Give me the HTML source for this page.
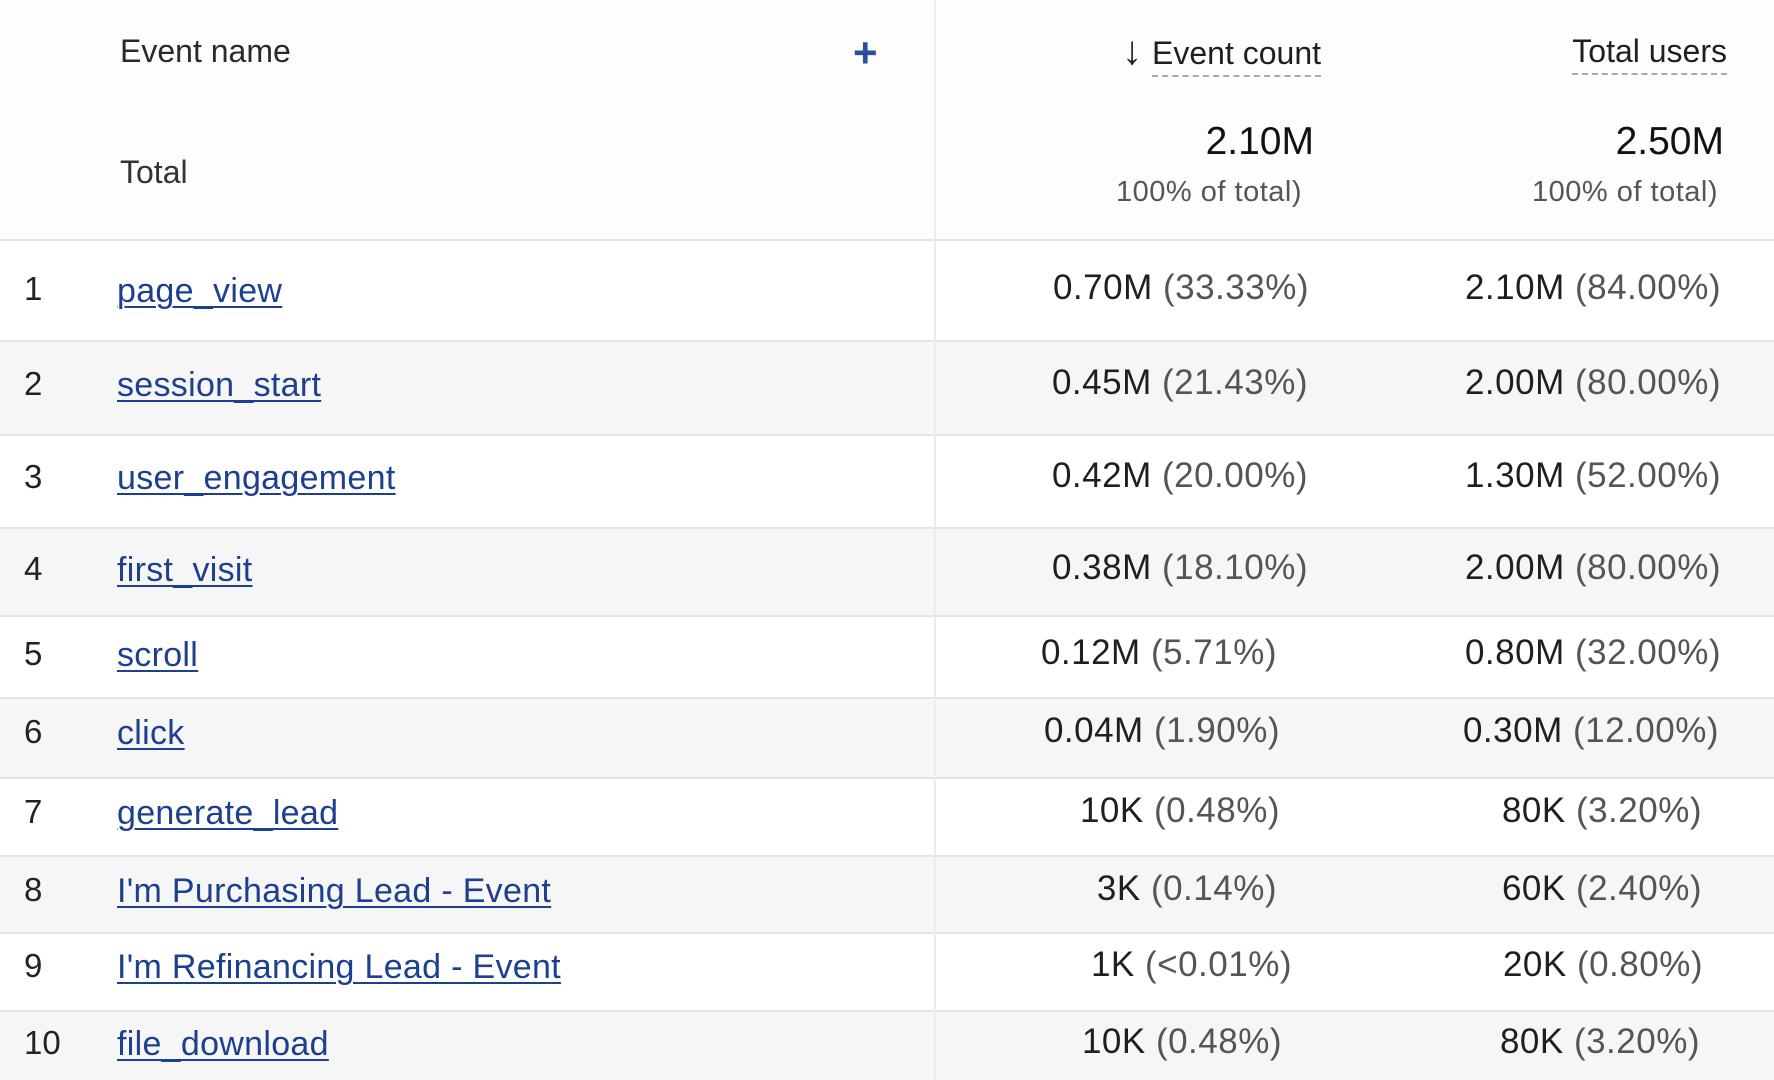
<!DOCTYPE html>
<html><head><meta charset="utf-8"><style>
html,body{margin:0;padding:0;width:1774px;height:1080px;overflow:hidden;background:#fff;font-family:"Liberation Sans",sans-serif;}
.a{position:absolute;white-space:nowrap;line-height:40px;height:40px;}
.row{position:absolute;left:0;width:1774px;border-bottom:2px solid #e4e4e4;box-sizing:border-box;}
.g{background:#f6f6f6;}
.num{left:24px;font-size:33px;color:#222;}
.nm{left:117px;font-size:34px;color:#1d3f8f;text-decoration:underline;text-decoration-thickness:2px;text-underline-offset:4px;letter-spacing:0.3px;}
.v{font-size:35px;color:#1f1f1f;text-align:right;letter-spacing:0.5px;}
.v span{color:#555;}
</style></head><body>
<div class="row" style="top:0;height:241px;background:#fdfdfd"></div>
<div class="row" style="top:241px;height:101px;"></div>
<div class="row g" style="top:342px;height:94px;"></div>
<div class="row" style="top:436px;height:93px;"></div>
<div class="row g" style="top:529px;height:88px;"></div>
<div class="row" style="top:617px;height:82px;"></div>
<div class="row g" style="top:699px;height:80px;"></div>
<div class="row" style="top:779px;height:78px;"></div>
<div class="row g" style="top:857px;height:77px;"></div>
<div class="row" style="top:934px;height:78px;"></div>
<div class="row g" style="top:1012px;height:68px;border:none"></div>
<div style="position:absolute;left:934px;top:0;width:2px;height:1080px;background:#ececec"></div>

<div class="a" style="left:120px;top:31px;font-size:32px;color:#2a2a2a">Event name</div>
<div class="a" style="left:853px;top:33px;font-size:42px;color:#2a4fa0;font-weight:bold">+</div>
<div class="a" style="right:453px;top:31px;font-size:32px;color:#1f1f1f"><span style="font-size:40px;margin-right:10px">↓</span><span style="border-bottom:2px dashed #aaa;padding-bottom:4px">Event count</span></div>
<div class="a" style="right:47px;top:31px;font-size:32px;color:#1f1f1f"><span style="border-bottom:2px dashed #aaa;padding-bottom:4px">Total users</span></div>
<div class="a" style="left:120px;top:152px;font-size:32px;color:#333">Total</div>
<div class="a" style="right:460px;top:122px;font-size:39px;color:#111">2.10M</div>
<div class="a" style="right:50px;top:122px;font-size:39px;color:#111">2.50M</div>
<div class="a" style="right:472px;top:172px;font-size:29px;color:#555;letter-spacing:0.5px">100% of total)</div>
<div class="a" style="right:56px;top:172px;font-size:29px;color:#555;letter-spacing:0.5px">100% of total)</div>

<div class="a num" style="top:269px">1</div><div class="a nm" style="top:271px">page_view</div>
<div class="a v" style="right:465px;top:268px">0.70M <span>(33.33%)</span></div><div class="a v" style="right:53px;top:268px">2.10M <span>(84.00%)</span></div>

<div class="a num" style="top:364px">2</div><div class="a nm" style="top:365px">session_start</div>
<div class="a v" style="right:466px;top:363px">0.45M <span>(21.43%)</span></div><div class="a v" style="right:53px;top:363px">2.00M <span>(80.00%)</span></div>

<div class="a num" style="top:457px">3</div><div class="a nm" style="top:458px">user_engagement</div>
<div class="a v" style="right:466px;top:456px">0.42M <span>(20.00%)</span></div><div class="a v" style="right:53px;top:456px">1.30M <span>(52.00%)</span></div>

<div class="a num" style="top:549px">4</div><div class="a nm" style="top:550px">first_visit</div>
<div class="a v" style="right:466px;top:548px">0.38M <span>(18.10%)</span></div><div class="a v" style="right:53px;top:548px">2.00M <span>(80.00%)</span></div>

<div class="a num" style="top:634px">5</div><div class="a nm" style="top:635px">scroll</div>
<div class="a v" style="right:497px;top:633px">0.12M <span>(5.71%)</span></div><div class="a v" style="right:53px;top:633px">0.80M <span>(32.00%)</span></div>

<div class="a num" style="top:712px">6</div><div class="a nm" style="top:713px">click</div>
<div class="a v" style="right:494px;top:711px">0.04M <span>(1.90%)</span></div><div class="a v" style="right:55px;top:711px">0.30M <span>(12.00%)</span></div>

<div class="a num" style="top:792px">7</div><div class="a nm" style="top:793px">generate_lead</div>
<div class="a v" style="right:494px;top:791px">10K <span>(0.48%)</span></div><div class="a v" style="right:72px;top:791px">80K <span>(3.20%)</span></div>

<div class="a num" style="top:870px">8</div><div class="a nm" style="top:871px">I'm Purchasing Lead - Event</div>
<div class="a v" style="right:497px;top:869px">3K <span>(0.14%)</span></div><div class="a v" style="right:72px;top:869px">60K <span>(2.40%)</span></div>

<div class="a num" style="top:946px">9</div><div class="a nm" style="top:947px">I'm Refinancing Lead - Event</div>
<div class="a v" style="right:482px;top:945px">1K <span>(&lt;0.01%)</span></div><div class="a v" style="right:71px;top:945px">20K <span>(0.80%)</span></div>

<div class="a num" style="top:1023px">10</div><div class="a nm" style="top:1024px">file_download</div>
<div class="a v" style="right:492px;top:1022px">10K <span>(0.48%)</span></div><div class="a v" style="right:74px;top:1022px">80K <span>(3.20%)</span></div>
</body></html>
